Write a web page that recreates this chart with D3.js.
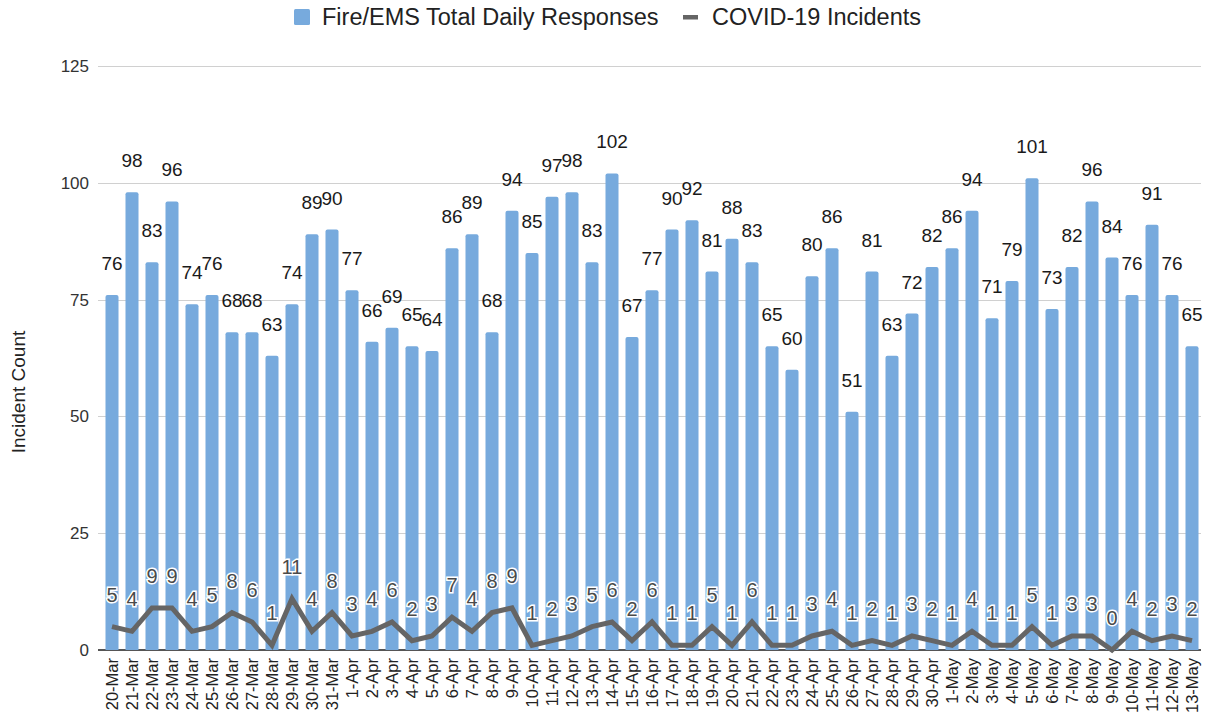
<!DOCTYPE html>
<html>
<head>
<meta charset="utf-8">
<script src="https://cdn.jsdelivr.net/npm/d3@7"></script>
<style>
  body { margin: 0; background: #fff; }
  svg text { font-family: "Liberation Sans", Arial, sans-serif; }
</style>
</head>
<body>
<div id="chart"></div>
<script>
const dates = [
  '20-Mar', '21-Mar', '22-Mar', '23-Mar', '24-Mar', '25-Mar', '26-Mar', '27-Mar', '28-Mar', '29-Mar', '30-Mar', '31-Mar',
  '1-Apr', '2-Apr', '3-Apr', '4-Apr', '5-Apr', '6-Apr', '7-Apr', '8-Apr', '9-Apr', '10-Apr',
  '11-Apr', '12-Apr', '13-Apr', '14-Apr', '15-Apr', '16-Apr', '17-Apr', '18-Apr', '19-Apr', '20-Apr',
  '21-Apr', '22-Apr', '23-Apr', '24-Apr', '25-Apr', '26-Apr', '27-Apr', '28-Apr', '29-Apr', '30-Apr',
  '1-May', '2-May', '3-May', '4-May', '5-May', '6-May', '7-May', '8-May', '9-May', '10-May',
  '11-May', '12-May', '13-May'
];

const totalResponses = [
  76, 98, 83, 96, 74, 76, 68, 68, 63, 74, 89, 90,
  77, 66, 69, 65, 64, 86, 89, 68, 94, 85,
  97, 98, 83, 102, 67, 77, 90, 92, 81, 88,
  83, 65, 60, 80, 86, 51, 81, 63, 72, 82,
  86, 94, 71, 79, 101, 73, 82, 96, 84, 76,
  91, 76, 65
];

const covidIncidents = [
  5, 4, 9, 9, 4, 5, 8, 6, 1, 11, 4, 8,
  3, 4, 6, 2, 3, 7, 4, 8, 9, 1,
  2, 3, 5, 6, 2, 6, 1, 1, 5, 1,
  6, 1, 1, 3, 4, 1, 2, 1, 3, 2,
  1, 4, 1, 1, 5, 1, 3, 3, 0, 4,
  2, 3, 2
];

const yTicks = [0, 25, 50, 75, 100, 125];

const seriesNames = ['Fire/EMS Total Daily Responses', 'COVID-19 Incidents'];

const width = 1215, height = 721;
const barColor = '#77aadd';
const lineColor = '#656565';

const svg = d3.select('#chart').append('svg')
  .attr('width', width)
  .attr('height', height);

svg.append('rect').attr('width', width).attr('height', height).attr('fill', '#fff');

const x = d3.scaleBand()
  .domain(dates)
  .range([102, 1202])
  .paddingInner(0.35)
  .paddingOuter(0.175);

const y = d3.scaleLinear()
  .domain([0, 125])
  .range([650, 66]);

// grid lines
svg.append('g')
  .selectAll('line')
  .data(yTicks.filter(d => d > 0))
  .enter().append('line')
  .attr('x1', 98)
  .attr('x2', 1201)
  .attr('y1', d => Math.round(y(d)) + 0.5)
  .attr('y2', d => Math.round(y(d)) + 0.5)
  .attr('stroke', '#d0d0d0')
  .attr('stroke-width', 1);

// y axis labels
const yAxis = d3.axisLeft(y).tickValues(yTicks).tickSize(0).tickPadding(0);
svg.append('g')
  .attr('transform', 'translate(89,0)')
  .call(yAxis)
  .call(g => g.select('.domain').remove())
  .selectAll('text')
  .attr('font-size', 17)
  .attr('fill', '#333')
  .attr('font-family', '"Liberation Sans", Arial, sans-serif');

// baseline
svg.append('line')
  .attr('x1', 98)
  .attr('x2', 1201)
  .attr('y1', y(0))
  .attr('y2', y(0))
  .attr('stroke', '#555')
  .attr('stroke-width', 2);

// bars
svg.append('g')
  .selectAll('path')
  .data(totalResponses)
  .enter().append('path')
  .attr('fill', barColor)
  .attr('d', (d, i) => {
    const x0 = x(dates[i]), w = x.bandwidth(), top = y(d), bot = y(0), r = 2;
    return `M${x0},${bot}V${top + r}Q${x0},${top} ${x0 + r},${top}H${x0 + w - r}Q${x0 + w},${top} ${x0 + w},${top + r}V${bot}Z`;
  });

// x axis labels
svg.append('g')
  .selectAll('text')
  .data(dates)
  .enter().append('text')
  .attr('transform', d => `translate(${x(d) + x.bandwidth() / 2 + 6},658) rotate(-90)`)
  .attr('text-anchor', 'end')
  .attr('font-size', 16.5)
  .attr('fill', '#222')
  .text(d => d);

// covid line
const line = d3.line()
  .x((d, i) => x(dates[i]) + x.bandwidth() / 2)
  .y(d => y(d));

svg.append('path')
  .datum(covidIncidents)
  .attr('d', line)
  .attr('fill', 'none')
  .attr('stroke', lineColor)
  .attr('stroke-width', 5)
  .attr('stroke-linejoin', 'miter');

// bar value labels
svg.append('g')
  .selectAll('text')
  .data(totalResponses)
  .enter().append('text')
  .attr('x', (d, i) => x(dates[i]) + x.bandwidth() / 2)
  .attr('y', d => y(d) - 25)
  .attr('text-anchor', 'middle')
  .attr('font-size', 19)
  .attr('fill', '#1a1a1a')
  .text(d => d);

// covid value labels
svg.append('g')
  .selectAll('text')
  .data(covidIncidents)
  .enter().append('text')
  .attr('x', (d, i) => x(dates[i]) + x.bandwidth() / 2)
  .attr('y', d => y(d) - 25)
  .attr('text-anchor', 'middle')
  .attr('font-size', 20)
  .attr('fill', '#4a4a4a')
  .attr('stroke', '#fff')
  .attr('stroke-width', 3)
  .attr('paint-order', 'stroke')
  .text(d => d);

// y axis title
svg.append('text')
  .attr('transform', 'translate(25,392) rotate(-90)')
  .attr('text-anchor', 'middle')
  .attr('font-size', 19)
  .attr('fill', '#222')
  .text('Incident Count');

// legend
const legend = svg.append('g');
legend.append('rect')
  .attr('x', 294).attr('y', 9)
  .attr('width', 16).attr('height', 16)
  .attr('rx', 1.5)
  .attr('fill', barColor);
legend.append('text')
  .attr('x', 322).attr('y', 25)
  .attr('font-size', 23.5)
  .attr('fill', '#222')
  .text(seriesNames[0]);
legend.append('rect')
  .attr('x', 683).attr('y', 15)
  .attr('width', 15).attr('height', 4.5)
  .attr('fill', lineColor);
legend.append('text')
  .attr('x', 712).attr('y', 25)
  .attr('font-size', 23.5)
  .attr('fill', '#222')
  .text(seriesNames[1]);
</script>
</body>
</html>
